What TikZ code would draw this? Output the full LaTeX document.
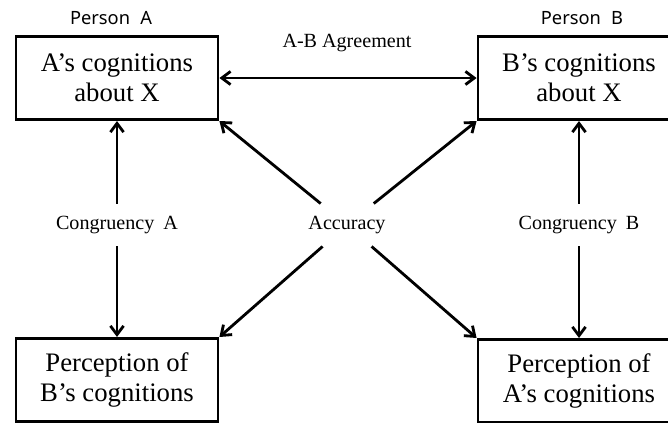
\documentclass[tikz,border=0pt]{standalone}
\usepackage{fontspec}
\setmainfont{Liberation Serif}
\newfontfamily\personfont{Noto Sans}
\usetikzlibrary{arrows.meta}
\tikzset{> = { Straight Barb[length = 2.2mm, width = 3.3mm] }}
\tikzset{
	box/.style = { draw, align = center, inner sep = 0pt, minimum width = 5.05cm, minimum height = 2.08cm, font = \fontsize{19}{21.5}\selectfont },
	lbl/.style = { inner xsep = 7pt, inner ysep = 8pt, font = \fontsize{14.3}{16}\selectfont },
	person/.style = { font = \personfont\fontsize{13}{15}\selectfont }
}

\begin{document}
\begin{tikzpicture}[x = 0.025cm, y = -0.025cm, line width = 2pt]
	\clip (0, 0) rectangle (668, 422);
	
	\node [box] (a) at (117, 78) {A’s cognitions\\about X};
	\node [box] (b) at (579, 78) {B’s cognitions\\about X};
	\node [box] (c) at (117, 380) {Perception of\\B’s cognitions};
	\node [box] (d) at (579, 381) {Perception of\\A’s cognitions};
	
	\node [person] (pa) at (111, 18) {Person\hspace{0.3em} A};
	\node [person] (pb) at (582, 18) {Person\hspace{0.3em} B};
	
	\node [lbl] (ab) at (347, 43) {A-B Agreement};
	\node [lbl] (ca) at (117, 225) {Congruency\hspace{0.2em} A};
	\node [lbl] (cb) at (579, 225) {Congruency\hspace{0.2em} B};
	\node [lbl] (acc) at (347, 225) {Accuracy};
	
	\draw [<->] (a) to (b);
	
	% Congruency.
	\draw [->] (ca) to (a);
	\draw [->] (ca) to (c);
	\draw [->] (cb) to (b);
	\draw [->] (cb) to (d);
	
	% Accuracy.
	\draw [->] (acc) to (a.south east);
	\draw [->] (acc) to (b.south west);
	\draw [->] (acc) to (c.north east);
	\draw [->] (acc) to (d.north west);
\end{tikzpicture}
\end{document}
